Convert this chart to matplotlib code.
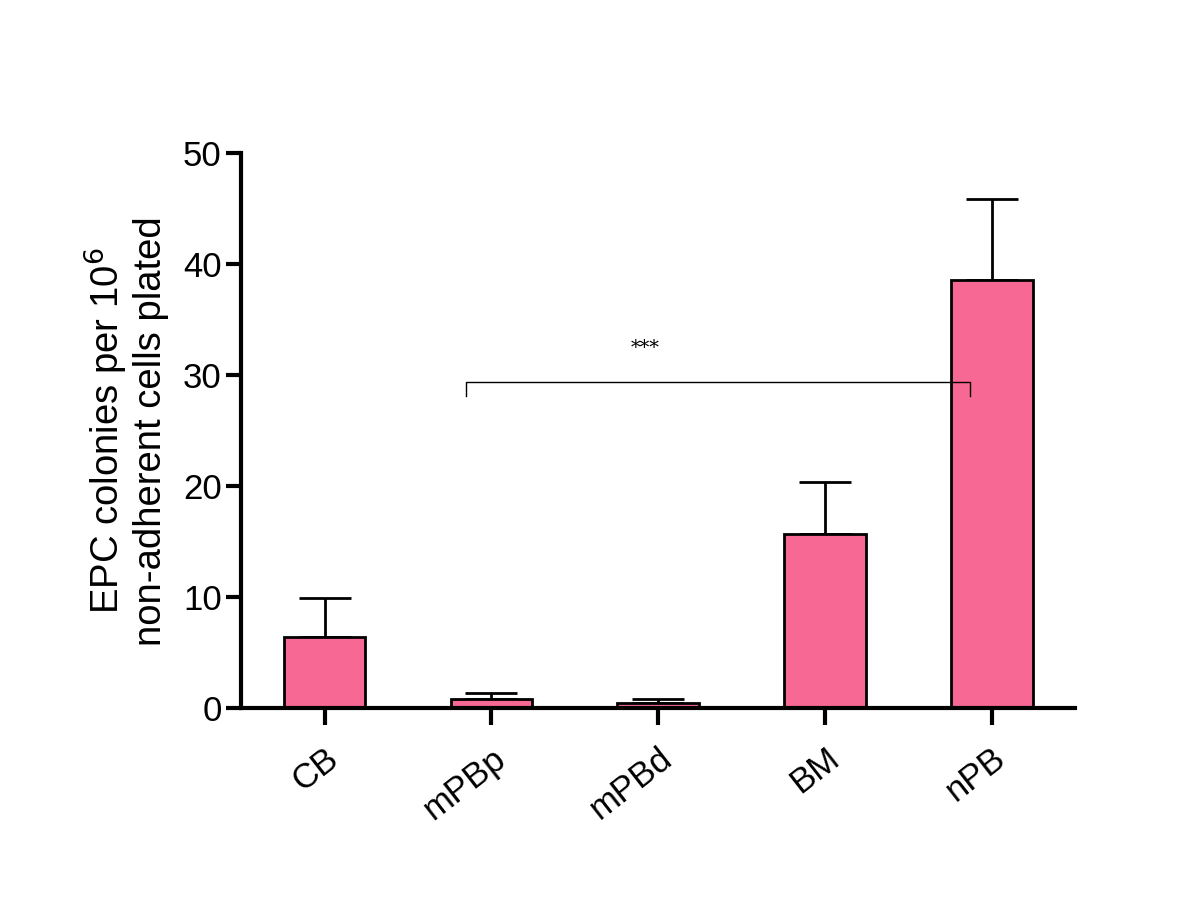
import matplotlib
matplotlib.use('Agg')
import matplotlib.pyplot as plt
import numpy as np

plt.rcParams['font.family'] = ['Liberation Sans', 'DejaVu Sans']

groups = ['CB', 'mPBp', 'mPBd', 'BM', 'nPB']
means = [6.4, 0.8, 0.45, 15.7, 38.6]
errs = [3.5, 0.6, 0.35, 4.7, 7.3]

fig = plt.figure(figsize=(12, 9), dpi=100)
ax = fig.add_axes([0.201, 0.213, 0.695, 0.617])

x = np.arange(len(groups))
ax.bar(x, means, width=0.49, color='#F76894', edgecolor='black', linewidth=2, zorder=2)
ax.errorbar(x, means, yerr=[np.zeros(len(errs)), errs], fmt='none', ecolor='black',
            elinewidth=2, capsize=19, capthick=2, zorder=1)

# significance bracket
ax.plot([0.85, 0.85, 3.87, 3.87], [28.1, 29.4, 29.4, 28.1], color='black', lw=1, zorder=3)
ax.text(1.92, 32.4, '***', ha='center', va='center', fontsize=14, family='DejaVu Serif')

ax.set_xlim(-0.5, 4.5)
ax.set_ylim(0, 50)
ax.set_yticks(range(0, 60, 10))
ax.set_xticks(x)
ax.set_xticklabels(groups, rotation=38, ha='right', rotation_mode='anchor')
ax.spines['top'].set_visible(False)
ax.spines['right'].set_visible(False)
ax.spines['left'].set_linewidth(3)
ax.spines['bottom'].set_linewidth(3)
ax.tick_params(axis='y', length=11, width=3, labelsize=25, pad=3)
ax.tick_params(axis='x', length=12, width=3, labelsize=25, pad=12)
ax.set_ylabel('EPC colonies per 10$^6$\nnon-adherent cells plated', fontsize=27.5,
              labelpad=10, linespacing=1.1)

plt.savefig('out.png', dpi=100)
